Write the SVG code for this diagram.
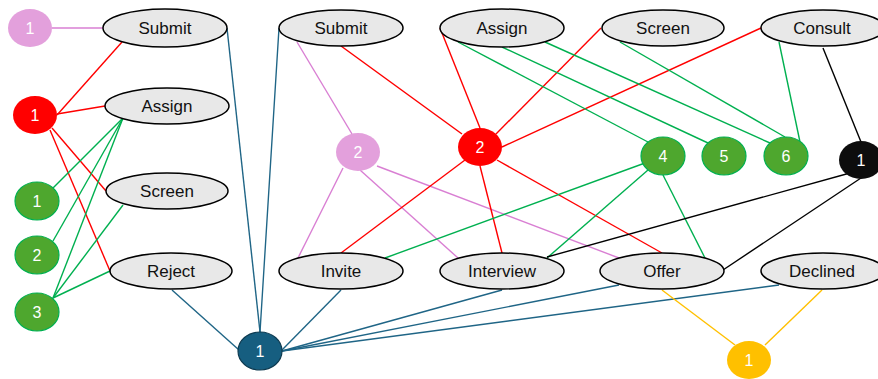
<svg xmlns="http://www.w3.org/2000/svg" width="878" height="379" viewBox="0 0 878 379">
<style>
.act{fill:#e8e8e8;stroke:#000;stroke-width:1.5}
.lbl{font-family:"Liberation Sans","Open Sans",Arial,sans-serif;font-size:17px;fill:#111;text-anchor:middle}
.num{font-family:"Liberation Sans","Open Sans",Arial,sans-serif;font-size:16px;fill:#fff;text-anchor:middle}
.c line{stroke-width:1.4;fill:none}
.pk{stroke:#d97fd3}
.rd{stroke:#ff0000}
.gn{stroke:#00b050}
.bk{stroke:#000}
.bl{stroke:#1f6586}
.yl{stroke:#ffc000}
.cpk{fill:#e3a0dc}
.crd{fill:#ff0000}
.cgn{fill:#4ea72e;stroke:#00b050;stroke-width:1.2}
.cbl{fill:#165e80;stroke:#0d3a50;stroke-width:1.2}
.cbk{fill:#0d0d0d}
.cyl{fill:#ffc000}
</style>
<g id="connectors" class="c">
<line class="pk" x1="52" y1="28" x2="103" y2="28"/>
<line class="pk" x1="297" y1="42" x2="352" y2="134"/>
<line class="pk" x1="343" y1="168" x2="298" y2="258"/>
<line class="pk" x1="360" y1="170" x2="458" y2="258"/>
<line class="pk" x1="377" y1="166" x2="619" y2="258"/>
<line class="rd" x1="57" y1="115" x2="122" y2="42"/>
<line class="rd" x1="57" y1="114" x2="105" y2="106"/>
<line class="rd" x1="52" y1="128" x2="106" y2="191"/>
<line class="rd" x1="50" y1="130" x2="110" y2="271"/>
<line class="rd" x1="341" y1="46" x2="462" y2="134"/>
<line class="rd" x1="440" y1="28" x2="480" y2="128"/>
<line class="rd" x1="601" y1="28" x2="496" y2="134"/>
<line class="rd" x1="761" y1="28" x2="502" y2="147"/>
<line class="rd" x1="465" y1="160" x2="341" y2="253"/>
<line class="rd" x1="480" y1="166" x2="502" y2="253"/>
<line class="rd" x1="497" y1="160" x2="662" y2="253"/>
<line class="gn" x1="123" y1="118" x2="53" y2="188"/>
<line class="gn" x1="123" y1="118" x2="53" y2="241"/>
<line class="gn" x1="123" y1="118" x2="53" y2="298"/>
<line class="gn" x1="123" y1="205" x2="53" y2="298"/>
<line class="gn" x1="110" y1="271" x2="53" y2="298"/>
<line class="gn" x1="458" y1="42" x2="648" y2="142"/>
<line class="gn" x1="502" y1="47" x2="708" y2="143"/>
<line class="gn" x1="545" y1="42" x2="770" y2="143"/>
<line class="gn" x1="620" y1="42" x2="785" y2="137"/>
<line class="gn" x1="779" y1="42" x2="800" y2="142"/>
<line class="gn" x1="645" y1="163" x2="385" y2="258"/>
<line class="gn" x1="648" y1="170" x2="547" y2="258"/>
<line class="gn" x1="663" y1="175" x2="705" y2="258"/>
<line class="bk" x1="823" y1="48" x2="861" y2="142"/>
<line class="bk" x1="850" y1="173" x2="547" y2="257"/>
<line class="bk" x1="861" y1="178" x2="723" y2="270"/>
<line class="bl" x1="227" y1="28" x2="260" y2="332"/>
<line class="bl" x1="279" y1="28" x2="260" y2="332"/>
<line class="bl" x1="172" y1="290" x2="239" y2="350"/>
<line class="bl" x1="341" y1="290" x2="282" y2="350"/>
<line class="bl" x1="502" y1="290" x2="282" y2="351"/>
<line class="bl" x1="619" y1="285" x2="282" y2="351"/>
<line class="bl" x1="779" y1="285" x2="282" y2="351"/>
<line class="yl" x1="662" y1="290" x2="735" y2="345"/>
<line class="yl" x1="822" y1="290" x2="765" y2="345"/>
</g>
<g id="submit1"><ellipse class="act" cx="165" cy="28" rx="62" ry="19"/><text class="lbl" x="165" y="34">Submit</text></g>
<g id="assign1"><ellipse class="act" cx="167" cy="106" rx="62" ry="18"/><text class="lbl" x="167" y="112">Assign</text></g>
<g id="screen1"><ellipse class="act" cx="167" cy="191" rx="61" ry="18"/><text class="lbl" x="167" y="197">Screen</text></g>
<g id="reject"><ellipse class="act" cx="171" cy="271" rx="61" ry="18"/><text class="lbl" x="171" y="277">Reject</text></g>
<g id="submit2"><ellipse class="act" cx="341" cy="28" rx="62" ry="18"/><text class="lbl" x="341" y="34">Submit</text></g>
<g id="assign2"><ellipse class="act" cx="502" cy="28" rx="62" ry="19"/><text class="lbl" x="502" y="34">Assign</text></g>
<g id="screen2"><ellipse class="act" cx="663" cy="28" rx="61" ry="18"/><text class="lbl" x="663" y="34">Screen</text></g>
<g id="consult"><ellipse class="act" cx="823" cy="28" rx="62" ry="18"/><text class="lbl" x="822" y="34">Consult</text></g>
<g id="invite"><ellipse class="act" cx="341" cy="271" rx="62" ry="18"/><text class="lbl" x="341" y="277">Invite</text></g>
<g id="interview"><ellipse class="act" cx="502" cy="271" rx="62" ry="18"/><text class="lbl" x="502" y="277">Interview</text></g>
<g id="offer"><ellipse class="act" cx="662" cy="271" rx="62" ry="18"/><text class="lbl" x="662" y="277">Offer</text></g>
<g id="declined"><ellipse class="act" cx="823" cy="271" rx="62" ry="18"/><text class="lbl" x="822" y="277">Declined</text></g>
<g id="pink1"><ellipse class="cpk" cx="30" cy="28" rx="22" ry="19"/><text class="num" x="30" y="34">1</text></g>
<g id="red1"><ellipse class="crd" cx="35" cy="115" rx="22" ry="19"/><text class="num" x="35" y="121">1</text></g>
<g id="green1"><ellipse class="cgn" cx="37" cy="201" rx="22" ry="19"/><text class="num" x="37" y="207">1</text></g>
<g id="green2"><ellipse class="cgn" cx="37" cy="255" rx="22" ry="19"/><text class="num" x="37" y="261">2</text></g>
<g id="green3"><ellipse class="cgn" cx="37" cy="312" rx="22" ry="19"/><text class="num" x="37" y="318">3</text></g>
<g id="blue1"><ellipse class="cbl" cx="260" cy="351" rx="22" ry="19"/><text class="num" x="260" y="357">1</text></g>
<g id="pink2"><ellipse class="cpk" cx="358" cy="152" rx="22" ry="19"/><text class="num" x="358" y="158">2</text></g>
<g id="red2"><ellipse class="crd" cx="480" cy="147" rx="22" ry="19"/><text class="num" x="480" y="153">2</text></g>
<g id="green4"><ellipse class="cgn" cx="663" cy="156" rx="22" ry="19"/><text class="num" x="663" y="162">4</text></g>
<g id="green5"><ellipse class="cgn" cx="724" cy="156" rx="22" ry="19"/><text class="num" x="724" y="162">5</text></g>
<g id="green6"><ellipse class="cgn" cx="786" cy="156" rx="22" ry="19"/><text class="num" x="786" y="162">6</text></g>
<g id="black1"><ellipse class="cbk" cx="861" cy="160" rx="22" ry="19"/><text class="num" x="861" y="166">1</text></g>
<g id="yellow1"><ellipse class="cyl" cx="749" cy="360" rx="22" ry="19"/><text class="num" x="749" y="366">1</text></g>
</svg>
